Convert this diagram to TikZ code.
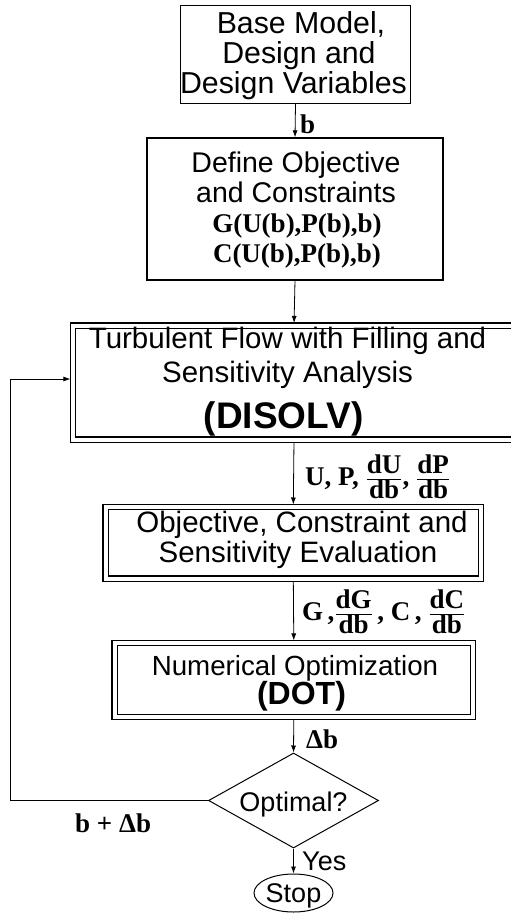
\documentclass[tikz,border=0pt]{standalone}
\usepackage{fontspec}
\setmainfont{Liberation Sans}
\newfontfamily\serifbf{Liberation Serif}[BoldFont={Liberation Serif Bold}]
\usetikzlibrary{shapes.geometric,arrows.meta}
\newcommand\fsz[1]{\fontsize{#1}{#1}\selectfont}
\newcommand\mylbl{\serifbf\bfseries\fsz{27}}
\newcommand\myfr[2]{$\textstyle\frac{\hbox{\raisebox{2.5pt}{#1}}}{\hbox{\raisebox{-2.5pt}{#2}}}$}
\begin{document}
\begin{tikzpicture}[x=1pt,y=-1pt,
  boxa/.style={draw, line width=1.3pt, rectangle, inner sep=0pt},
  dboxa/.style={draw, line width=1.1pt, double, double distance=4pt, rectangle, inner sep=0pt},
  txt/.style={inner sep=0pt, anchor=base},
  lbl/.style={inner sep=0pt, font=\mylbl},
  arr/.style={-{Latex[length=7pt,width=5pt]}, line width=0.8pt}]
\useasboundingbox (0,0) rectangle (511,913);
\fill[white] (0,0) rectangle (511,913);

% boxes
\node[boxa, minimum width=230pt, minimum height=98pt] (b1) at (295.5,54.5) {};
\node[boxa, minimum width=296pt, minimum height=142pt] (b2) at (295,209) {};
\node[dboxa, minimum width=442pt, minimum height=114pt] (dis) at (294,382.5) {};
\node[dboxa, minimum width=375.5pt, minimum height=71.5pt] (obj) at (293.3,542.8) {};
\node[dboxa, minimum width=358.5pt, minimum height=74pt] (dot) at (293.8,680) {};
\node[draw, line width=1pt, diamond, minimum width=170pt, minimum height=95pt, inner sep=0pt] (dia) at (293.5,800.5) {};
\node[draw, line width=1pt, ellipse, minimum width=79pt, minimum height=38pt, inner sep=0pt] (stop) at (293.5,893) {};

% texts
\node[txt, font=\fsz{30.3}] (t1a) at (301,33) {Base Model,};
\node[txt, font=\fsz{30.3}] (t1b) at (299,63) {Design and};
\node[txt, font=\fsz{30.3}] (t1c) at (293.5,93) {Design Variables};

\node[txt, font=\fsz{28.5}] (t2a) at (296,172) {Define Objective};
\node[txt, font=\fsz{28.5}] (t2b) at (296,202) {and Constraints};
\node[txt, font=\mylbl] (t2c) at (297,232) {G(U(b),P(b),b)};
\node[txt, font=\mylbl] (t2d) at (297,262) {C(U(b),P(b),b)};

\node[txt, font=\fsz{29.5}] (t3a) at (287.5,348) {Turbulent Flow with Filling and};
\node[txt, font=\fsz{29.5}] (t3b) at (287.5,382) {Sensitivity Analysis};
\node[txt, font=\bfseries\fsz{37}] (t3c) at (283.5,428) {(DISOLV)};

\node[txt, font=\fsz{29.5}] (t4a) at (302,532) {Objective, Constraint and};
\node[txt, font=\fsz{29.5}] (t4b) at (298,562) {Sensitivity Evaluation};

\node[txt, font=\fsz{27.7}] (t5a) at (295,675) {Numerical Optimization};
\node[txt, font=\bfseries\fsz{32}] (t5b) at (301.5,704) {(DOT)};

\node[txt, font=\fsz{27}] (t6) at (293.5,811) {Optimal?};
\node[txt, font=\fsz{27}] (t7) at (293.5,902) {Stop};

% connectors
\draw[arr] (b1.south) -- (b2.north);
\draw[arr, shorten >=2pt] (b2.south) -- (dis.north);
\draw[arr, shorten <=2pt, shorten >=2pt] (dis.south) -- (obj.north);
\draw[arr, shorten <=2pt, shorten >=2pt] (obj.south) -- (dot.north);
\draw[arr, shorten <=2pt] (dot.south) -- (dia.north);
\draw[arr] (dia.south) -- (stop.north);
\coordinate (fb) at (10,800.5);
\draw[arr, shorten >=2pt] (dia.west) -- (fb) |- ([yshift=3.5pt]dis.west);

% labels
\node[lbl, anchor=base west] (l1) at (300,133) {b};
\node[lbl, anchor=west] (l2) at (305,477) {U, P, \myfr{dU}{db}, \myfr{dP}{db}};
\node[lbl, anchor=west] (l3) at (302,612) {G\,,\myfr{dG}{db}\,, C\,, \myfr{dC}{db}};
\node[lbl, anchor=base west] (l4) at (306,748) {Δb};
\node[lbl, anchor=base west] (l5) at (75,832) {b + Δb};
\node[txt, anchor=base west, font=\fsz{27}] (l6) at (302,870) {Yes};
\end{tikzpicture}
\end{document}
